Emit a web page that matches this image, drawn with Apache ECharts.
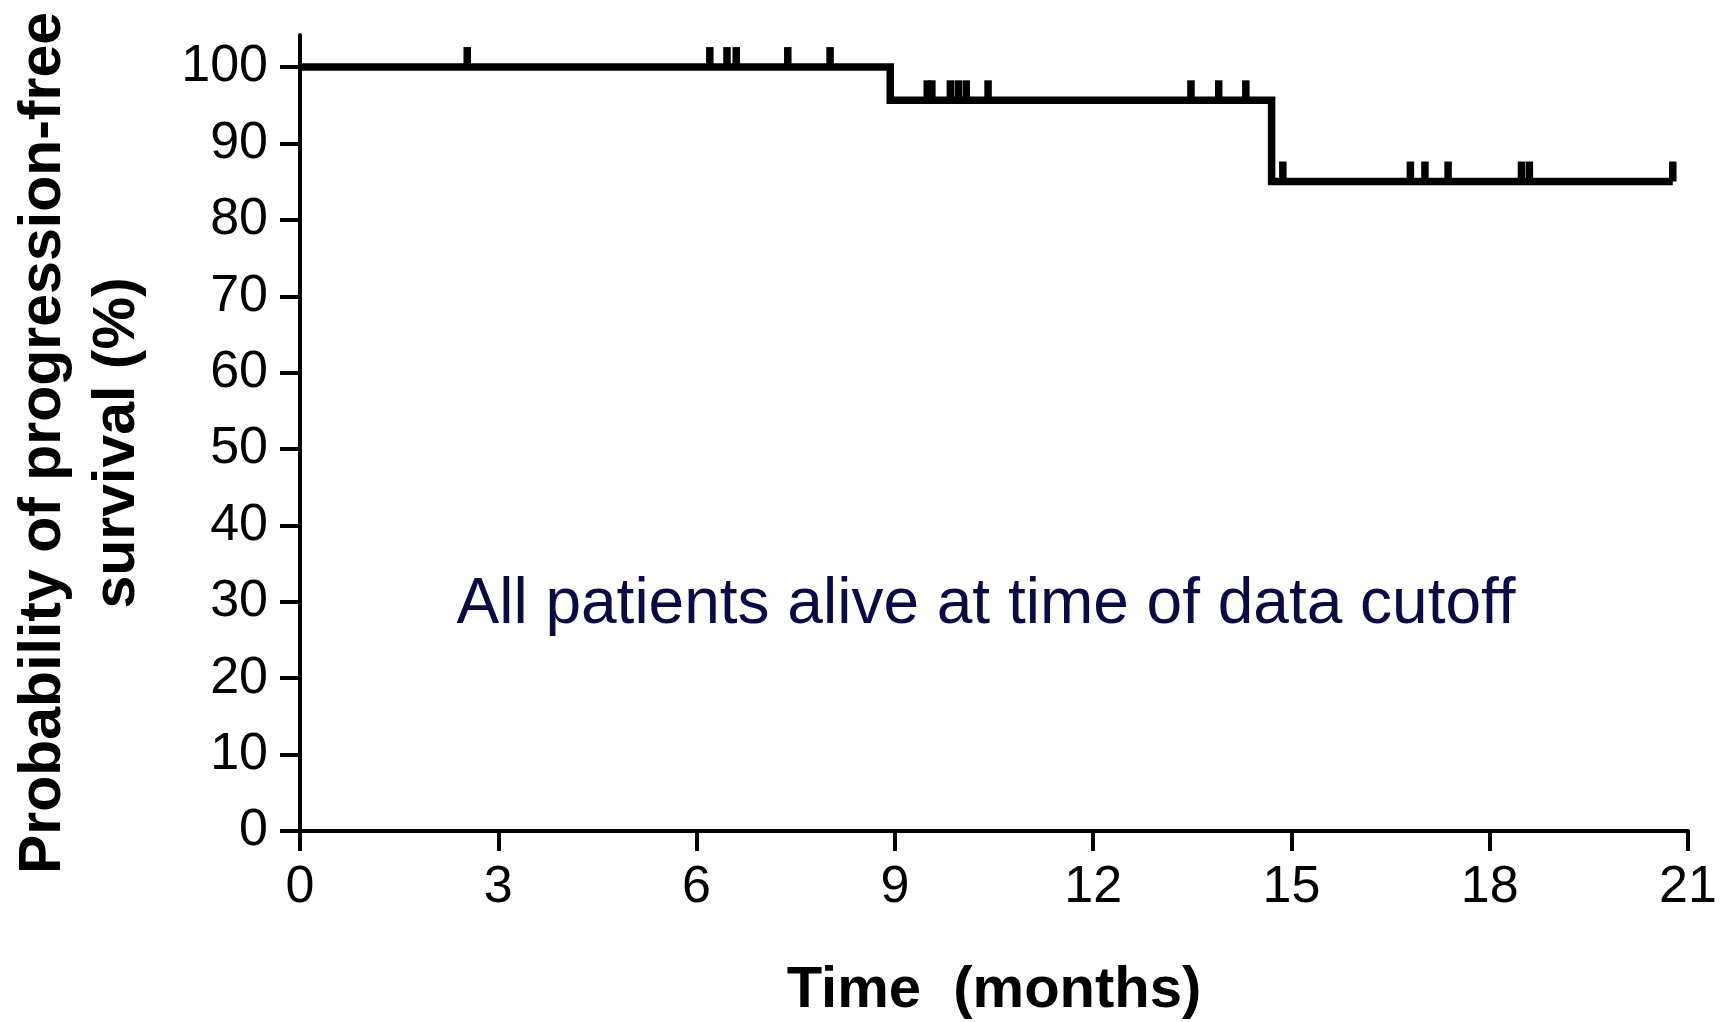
<!DOCTYPE html>
<html>
<head>
<meta charset="utf-8">
<title>Progression-free survival</title>
<script src="https://cdn.jsdelivr.net/npm/echarts@6/dist/echarts.min.js"></script>
<style>
  html, body { margin: 0; padding: 0; background: #fff; }
  #chart { width: 1728px; height: 1022px; }
</style>
</head>
<body>
<div id="chart"></div>
<script>
// Kaplan-Meier step: the curve drops to stepValues[i] at stepTimes[i]
const stepTimes = [0, 8.93, 14.70]
const stepValues = [100, 95.65, 85.02]
const lastFollowUp = 20.77

// censored patients (months)
const censorTimes = [
  2.53, 6.20, 6.46, 6.60, 7.38, 8.02,
  9.49, 9.56, 9.84, 9.96, 10.08, 10.41, 13.48, 13.90, 14.31,
  14.87, 16.80, 17.02, 17.37, 18.48, 18.60, 20.77
]

const xTicks = [0, 3, 6, 9, 12, 15, 18, 21]
const yTicks = [0, 10, 20, 30, 40, 50, 60, 70, 80, 90, 100]

const FONT = '"Liberation Sans", Arial, Helvetica, sans-serif'

function survivalAt(t) {
  let v = stepValues[0]
  stepTimes.forEach((s, i) => { if (s <= t) v = stepValues[i] })
  return v
}

const curve = stepTimes.map((t, i) => [t, stepValues[i]])
curve.push([lastFollowUp, survivalAt(lastFollowUp)])

const censors = censorTimes.map((t) => [t, survivalAt(t)])

const chart = echarts.init(document.getElementById('chart'), null, { renderer: 'canvas' })

const axisCommon = {
  axisLine: { show: true, onZero: false, lineStyle: { color: '#000', width: 4 } },
  axisTick: { show: true, length: 20, lineStyle: { color: '#000', width: 4 } },
  splitLine: { show: false },
  axisLabel: { color: '#000', fontSize: 52, fontFamily: FONT }
}

chart.setOption({
  animation: false,
  backgroundColor: '#fff',
  grid: {
    left: 300, right: 40, top: 35, bottom: 191,
    containLabel: false,
    outerBoundsMode: 'none'
  },
  xAxis: {
    type: 'value',
    min: 0,
    max: 21,
    interval: 3,
    ...axisCommon,
    axisLabel: { ...axisCommon.axisLabel, margin: 31, customValues: xTicks },
    axisTick: { ...axisCommon.axisTick, customValues: xTicks },
    name: 'Time  (months)',
    nameLocation: 'middle',
    nameGap: 131,
    nameTextStyle: { color: '#000', fontSize: 58, fontWeight: 'bold', fontFamily: FONT }
  },
  yAxis: {
    type: 'value',
    min: 0,
    max: 104.2,
    ...axisCommon,
    axisLabel: { ...axisCommon.axisLabel, margin: 32, customValues: yTicks },
    axisTick: { ...axisCommon.axisTick, customValues: yTicks },
    name: 'Probability of progression-free\nsurvival (%)',
    nameLocation: 'middle',
    nameRotate: 90,
    nameGap: 145,
    nameTextStyle: {
      color: '#000', fontSize: 59, fontWeight: 'bold', fontFamily: FONT,
      lineHeight: 74, align: 'center',
      padding: [0, 20, 0, 0]
    }
  },
  graphic: [
    {
      type: 'text',
      x: 986,
      y: 605,
      style: {
        text: 'All patients alive at time of data cutoff',
        fill: '#0a0a45',
        font: '64px ' + FONT,
        align: 'center',
        verticalAlign: 'middle'
      },
      z: 10
    }
  ],
  series: [
    {
      name: 'PFS',
      type: 'line',
      step: 'end',
      data: curve,
      showSymbol: false,
      lineStyle: { color: '#000', width: 7.5, join: 'miter', cap: 'butt' },
      z: 3
    },
    {
      name: 'Censored',
      type: 'scatter',
      data: censors,
      symbol: 'rect',
      symbolSize: [7.5, 20],
      symbolOffset: [0, '-50%'],
      itemStyle: { color: '#000', opacity: 1 },
      z: 4
    }
  ]
})
</script>
</body>
</html>
